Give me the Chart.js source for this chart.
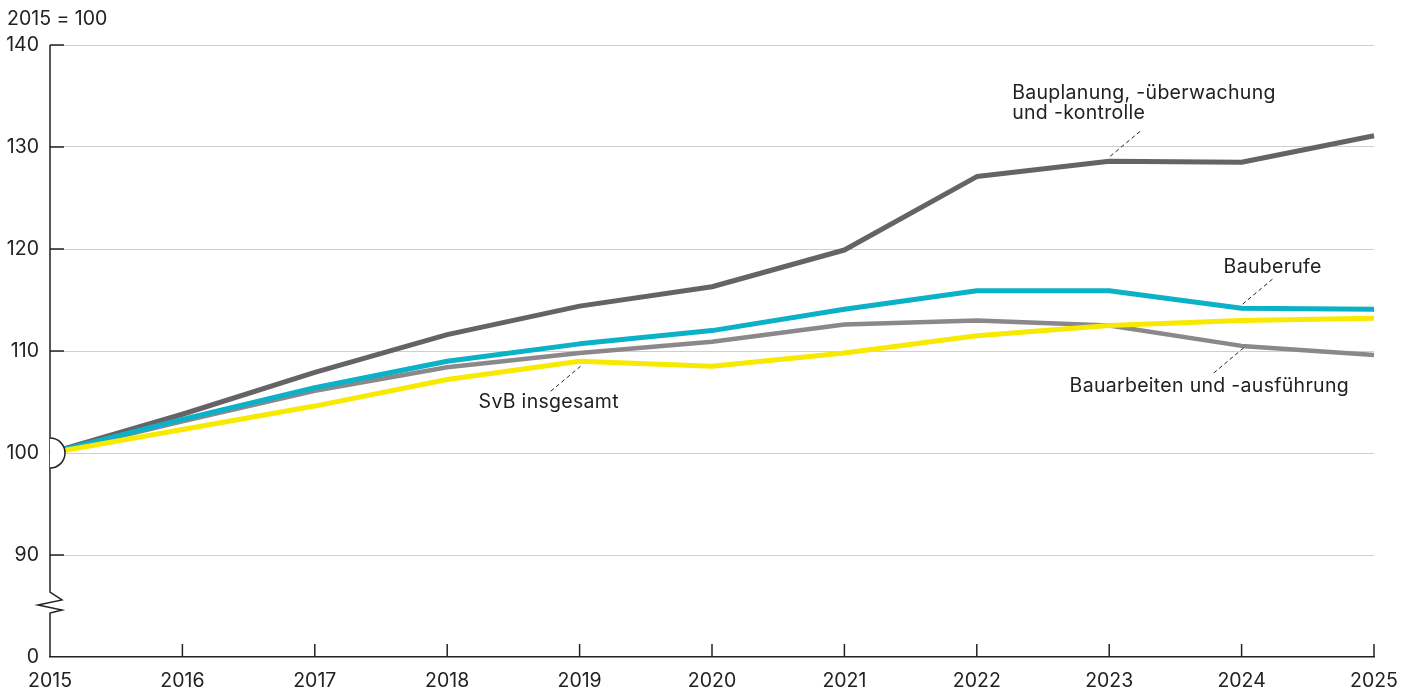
<!DOCTYPE html>
<html lang="de">
<head>
<meta charset="utf-8">
<title>Beschäftigte in Bauberufen, 2015 = 100</title>
<script src="https://cdn.jsdelivr.net/npm/chart.js@4.4.1/dist/chart.umd.min.js"></script>
<style>
  html, body { margin: 0; padding: 0; background: #fff; }
  .chart-wrap { position: relative; width: 1418px; height: 691px; }
</style>
</head>
<body>
<div class="chart-wrap"><canvas id="bauChart"></canvas></div>
<script>
/* ---- data (index, 2015 = 100) ---- */
const years = ['2015','2016','2017','2018','2019','2020','2021','2022','2023','2024','2025'];

const svbInsgesamt = [100, 102.3, 104.6, 107.2, 109.0, 108.5, 109.8, 111.5, 112.5, 113.0, 113.2];
const bauberufe    = [100, 103.3, 106.4, 109.0, 110.7, 112.0, 114.1, 115.9, 115.9, 114.2, 114.1];
const bauarbeiten  = [100, 103.1, 106.1, 108.4, 109.8, 110.9, 112.6, 113.0, 112.5, 110.5, 109.6];
const bauplanung   = [100, 103.8, 107.9, 111.6, 114.4, 116.3, 119.9, 127.1, 128.6, 128.5, 131.1];

// the axis is broken: the bottom tick (80 on the scale) is labelled 0
const yTickLabels = ['0', '90', '100', '110', '120', '130', '140'];

const INK = '#222';
const FONT = 'Inter, "Noto Sans", sans-serif';
Chart.defaults.font.family = FONT;
Chart.defaults.font.size = 19.5;
Chart.defaults.color = INK;

/* labels with dashed leader lines, anchored on a data point */
const notes = [
  { lines: ['Bauplanung, -überwachung', 'und -kontrolle'], data: bauplanung, i: 8,
    from: [1, -5], to: [31, -30], text: [-97, -62], lineGap: 20 },
  { lines: ['Bauberufe'], data: bauberufe, i: 9,
    from: [1, -4], to: [32, -30], text: [-18, -35] },
  { lines: ['Bauarbeiten und -ausführung'], data: bauarbeiten, i: 9,
    from: [2, 2], to: [-29, 28], text: [-172, 46] },
  { lines: ['SvB insgesamt'], data: svbInsgesamt, i: 4,
    from: [1, 5], to: [-30, 31], text: [-101, 47] }
];

const decorations = {
  id: 'decorations',
  afterDraw(chart) {
    const { ctx, chartArea: a, scales: { x, y } } = chart;
    ctx.save();
    ctx.strokeStyle = INK;
    ctx.lineWidth = 1.5;

    // y axis with break
    const by = y.getPixelForValue(85);
    ctx.beginPath();
    ctx.moveTo(a.left, a.top);
    ctx.lineTo(a.left, by - 14);
    ctx.lineTo(a.left + 12, by - 6);
    ctx.lineTo(a.left - 12, by - 1);
    ctx.lineTo(a.left + 12, by + 4);
    ctx.lineTo(a.left, by + 7);
    ctx.lineTo(a.left, a.bottom);
    ctx.stroke();

    // inward ticks on y
    [90, 110, 120, 130, 140].forEach(v => {
      const py = y.getPixelForValue(v);
      ctx.beginPath();
      ctx.moveTo(a.left, py);
      ctx.lineTo(a.left + 14, py);
      ctx.stroke();
    });
    // inward ticks on x
    years.forEach((yr, i) => {
      if (i === 0) return;
      const px = x.getPixelForValue(i);
      ctx.beginPath();
      ctx.moveTo(px, a.bottom);
      ctx.lineTo(px, a.bottom - 13);
      ctx.stroke();
    });

    // base-year marker at 100
    const p100 = y.getPixelForValue(100);
    ctx.beginPath();
    ctx.arc(a.left, p100, 15, -Math.PI / 2, Math.PI / 2);
    ctx.fillStyle = '#fff';
    ctx.fill();
    ctx.stroke();

    // unit
    ctx.fillStyle = INK;
    ctx.font = '19.5px ' + FONT;
    ctx.textBaseline = 'middle';
    ctx.textAlign = 'left';
    ctx.fillText('2015 = 100', 7, 19);

    // notes
    ctx.textBaseline = 'alphabetic';
    ctx.letterSpacing = '0.3px';
    ctx.lineWidth = 1;
    notes.forEach(n => {
      const px = x.getPixelForValue(n.i);
      const py = y.getPixelForValue(n.data[n.i]);
      ctx.setLineDash([4, 3]);
      ctx.beginPath();
      ctx.moveTo(px + n.from[0], py + n.from[1]);
      ctx.lineTo(px + n.to[0], py + n.to[1]);
      ctx.stroke();
      ctx.setLineDash([]);
      n.lines.forEach((t, k) => {
        ctx.fillText(t, px + n.text[0], py + n.text[1] + k * (n.lineGap || 0));
      });
    });
    ctx.restore();
  }
};

const line = (label, data, color, width) => ({
  label, data,
  borderColor: color,
  borderWidth: width,
  pointRadius: 0,
  tension: 0,
  fill: false,
  borderJoinStyle: 'round'
});

new Chart(document.getElementById('bauChart'), {
  type: 'line',
  data: {
    labels: years,
    // first dataset is drawn on top
    datasets: [
      line('SvB insgesamt', svbInsgesamt, '#f7e900', 5),
      line('Bauberufe', bauberufe, '#0bb1c6', 5),
      line('Bauarbeiten und -ausführung', bauarbeiten, '#8c878b', 4.5),
      line('Bauplanung, -überwachung und -kontrolle', bauplanung, '#676266', 5)
    ]
  },
  options: {
    responsive: true,
    maintainAspectRatio: false,
    animation: false,
    layout: { padding: { top: 45, right: 44, left: 0, bottom: 0 } },
    plugins: { legend: { display: false }, tooltip: { enabled: false } },
    scales: {
      x: {
        grid: { display: false, drawTicks: false },
        border: { display: true, color: INK, width: 1.5 },
        ticks: { padding: 12, maxRotation: 0, autoSkip: false },
        afterFit: s => { s.height = 34; }
      },
      y: {
        min: 80, max: 140,
        grid: {
          drawTicks: false,
          color: c => (c.tick && c.tick.value === 80) ? 'rgba(0,0,0,0)' : '#cfcfcf',
          lineWidth: 1
        },
        border: { display: false },
        ticks: {
          stepSize: 10,
          padding: 11,
          callback: (v, i) => yTickLabels[i]
        },
        afterFit: s => { s.width = 50; }
      }
    }
  },
  plugins: [decorations]
});
</script>
</body>
</html>
